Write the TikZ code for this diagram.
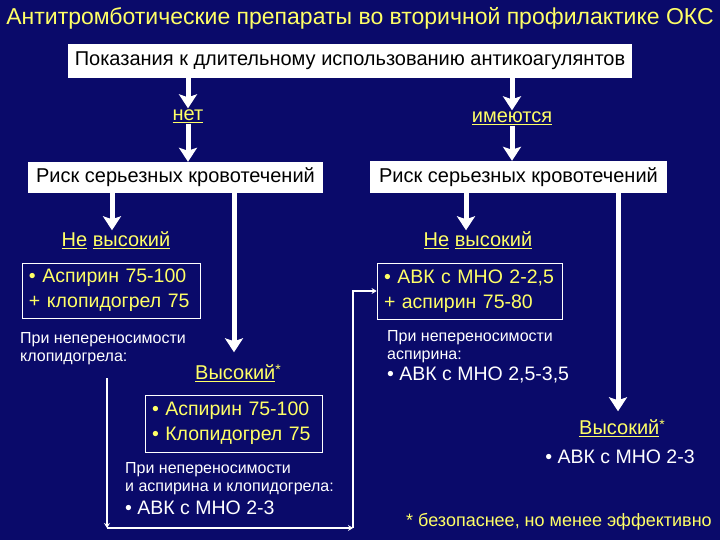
\documentclass[tikz,border=0pt]{standalone}
\usepackage{fontspec}
\setmainfont{Liberation Sans}
\usetikzlibrary{arrows.meta,positioning}
\definecolor{navy}{RGB}{10,10,106}
\definecolor{lemon}{RGB}{255,255,102}

\begin{document}
\begin{tikzpicture}[
      x=1bp, y=-1bp,
      whitebox/.style={fill=white, text=black, inner sep=0pt, font=\fontsize{20bp}{22bp}\selectfont},
      drugbox/.style={draw=white, line width=0.8bp, text=lemon, align=left, inner xsep=7bp, font=\fontsize{19.5bp}{25bp}\selectfont},
      branch/.style={text=lemon, inner sep=1bp, font=\fontsize{20bp}{22bp}\selectfont},
      note/.style={text=white, align=left, anchor=west, inner sep=0pt, font=\fontsize{16bp}{18bp}\selectfont},
      drug/.style={text=white, anchor=west, inner sep=0pt, font=\fontsize{19.5bp}{22bp}\selectfont},
      bigarrow/.style={draw=white, line width=5bp, -{Stealth[length=14bp,width=18bp,inset=3bp]}},
      thinarrow/.style={draw=white, line width=1.6bp, -{Stealth[length=5bp,width=6bp]}}
    ]
      \fill[navy] (0,0) rectangle (720,540);
      \useasboundingbox (0,0) rectangle (720,540);

      \node[text=lemon, font=\fontsize{23bp}{25bp}\selectfont] (title) at (360,18) {Антитромботические препараты во вторичной профилактике ОКС};
      \node[whitebox, minimum width=564bp, minimum height=34bp] (indic) at (350,61) {Показания к длительному использованию антикоагулянтов};

      \node[branch] (no) at (188,116) {\underline{нет}};
      \node[branch] (yes) at (512,118) {\underline{имеются}};
      \node[whitebox, minimum width=295bp, minimum height=31bp] (risk1) at (175.5,177.5) {Риск серьезных кровотечений};
      \node[whitebox, minimum width=297bp, minimum height=32bp] (risk2) at (518.5,177) {Риск серьезных кровотечений};

      \node[branch] (low1) at (116,240) {\underline{Не} \underline{высокий}};
      \node[branch] (low2) at (478,240) {\underline{Не} \underline{высокий}};
      \node[branch] (high1) at (238,373) {\underline{Высокий}\raisebox{5bp}{\fontsize{14bp}{14bp}\selectfont*}};
      \node[branch] (high2) at (622,428) {\underline{Высокий}\raisebox{5bp}{\fontsize{14bp}{14bp}\selectfont*}};

      \node[drugbox, text width=164bp, minimum height=55bp] (dapt) at (111,290.5) {• Аспирин 75-100\\+ клопидогрел 75};
      \node[note] (note1) at (20,349) {При непереносимости\\клопидогрела:};
      \node[drugbox, text width=163bp, minimum height=57bp] (dapt2) at (233.5,423.5) {• Аспирин 75-100\\• Клопидогрел 75};
      \node[note] (note2) at (125,479) {При непереносимости\\и аспирина и клопидогрела:};
      \node[drug] (vka1) at (125,508) {• АВК с МНО 2-3};

      \node[drugbox, text width=171bp, minimum height=56bp] (vka) at (469.5,291) {• АВК с МНО 2-2,5\\+ аспирин 75-80};
      \node[note] (note3) at (387,346.5) {При непереносимости\\аспирина:};
      \node[drug] (vka2) at (387,375) {• АВК с МНО 2,5-3,5};
      \node[drug, anchor=center] (vka3) at (620,457) {• АВК с МНО 2-3};
      \node[text=lemon, font=\fontsize{18bp}{20bp}\selectfont] (foot) at (559,522) {* безопаснее, но менее эффективно};

      \draw[bigarrow] (indic.south -| no) -- (no.north);
      \draw[bigarrow] (no.south) -- (no |- risk1.north);
      \draw[bigarrow] (indic.south -| yes) -- (yes.north);
      \draw[bigarrow] (yes.south) -- (yes |- risk2.north);
      \draw[bigarrow] ([xshift=-4bp]risk1.south -| low1) -- ([xshift=-4bp]low1.north);
      \draw[bigarrow] ([xshift=-12bp]risk2.south -| low2) -- ([xshift=-12bp]low2.north);
      \draw[bigarrow] ([xshift=-4bp]risk1.south -| high1) -- ([xshift=-4bp,yshift=11bp]high1.north);
      \draw[bigarrow] ([xshift=-4bp]risk2.south -| high2) -- ([xshift=-4bp,yshift=7bp]high2.north);

      \coordinate (turn1) at (107,378);
      \coordinate (turn2) at (107,528);
      \coordinate (turn3) at (353,528);
      \draw[thinarrow] (turn1) -- (turn2);
      \draw[thinarrow] (turn2) -- (turn3);
      \draw[thinarrow] (turn3) |- (vka.west);
    \end{tikzpicture}
\end{document}
